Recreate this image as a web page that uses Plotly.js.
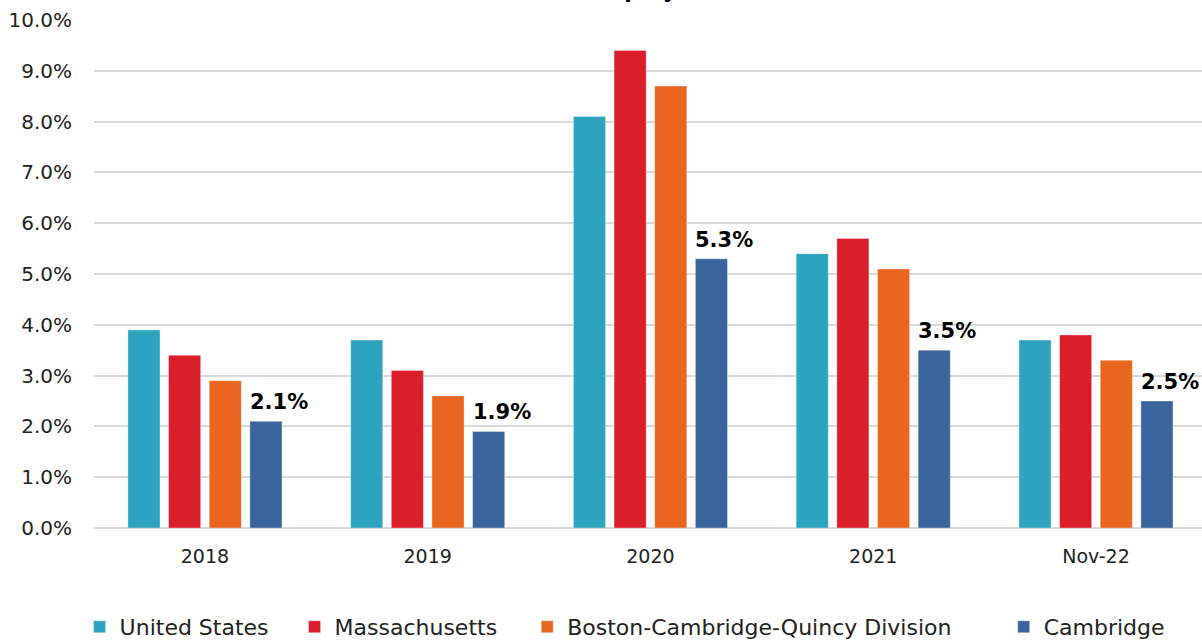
<!DOCTYPE html>
<html>
<head>
<meta charset="utf-8">
<script src="https://cdn.plot.ly/plotly-3.0.1.min.js"></script>
<style>html,body{margin:0;padding:0;background:#fff;}#chart{width:1202px;height:643px;}</style>
</head>
<body>
<div id="chart"></div>
<script>
var categories = ["2018", "2019", "2020", "2021", "Nov-22"];
var seriesNames = ["United States", "Massachusetts", "Boston-Cambridge-Quincy Division", "Cambridge"];
var unitedStates = [3.9, 3.7, 8.1, 5.4, 3.7];
var massachusetts = [3.4, 3.1, 9.4, 5.7, 3.8];
var bostonDivision = [2.9, 2.6, 8.7, 5.1, 3.3];
var cambridge = [2.1, 1.9, 5.3, 3.5, 2.5];
var colors = ["#2EA3BF", "#DA1F2B", "#E8661F", "#3A649C"];
var yTickVals = [0, 1, 2, 3, 4, 5, 6, 7, 8, 9, 10];
var yTickText = ["0.0%", "1.0%", "2.0%", "3.0%", "4.0%", "5.0%", "6.0%", "7.0%", "8.0%", "9.0%", "10.0%"];
var titleText = "Unemployment Rate";

var FONT = "DejaVu Sans, sans-serif";
var legendIds = ["legend", "legend2", "legend3", "legend4"];
var legendX = [-0.013, 0.181, 0.391, 0.821];
var allSeries = [unitedStates, massachusetts, bostonDivision, cambridge];
var traces = allSeries.map(function (vals, i) {
  return {
    type: "bar",
    name: seriesNames[i],
    x: categories,
    y: vals,
    legend: legendIds[i],
    marker: { color: colors[i], line: { color: "rgba(255,255,255,0.35)", width: 1 } },
    hoverinfo: "skip"
  };
});

// category axis: annotation x given as category index
var annotations = cambridge.map(function (v, i) {
  return {
    x: i, y: v, xref: "x", yref: "y",
    text: v.toFixed(1) + "%",
    showarrow: false,
    xanchor: "left", yanchor: "bottom",
    xshift: 43, yshift: 5,
    font: { family: FONT, size: 21, color: "#000", weight: "bold" }
  };
});

var layout = {
  width: 1202, height: 643,
  margin: { l: 94, r: 0, t: 20, b: 115, autoexpand: false },
  paper_bgcolor: "#fff", plot_bgcolor: "#fff",
  barmode: "group",
  bargap: 0.27,
  bargroupgap: 0.21,
  showlegend: true,
  xaxis: {
    type: "category",
    range: [-0.498, 4.476],
    tickfont: { family: FONT, size: 19, color: "#222" },
    showgrid: false, showline: false, zeroline: false,
    ticks: "", ticklabelstandoff: 15
  },
  yaxis: {
    range: [0, 10],
    tickvals: yTickVals, ticktext: yTickText,
    tickfont: { family: FONT, size: 20, color: "#222" },
    showgrid: true, gridcolor: "#D9D9D9", gridwidth: 2,
    zeroline: true, zerolinecolor: "#D9D9D9", zerolinewidth: 2,
    showline: false, ticks: "", ticklabelstandoff: 21
  },
  annotations: annotations.concat([{
    xref: "paper", yref: "paper", x: 0.528, y: 1, xanchor: "center", yanchor: "bottom",
    yshift: 15, showarrow: false, text: titleText,
    font: { family: FONT, size: 22, color: "#000", weight: "bold" }
  }])
};
legendIds.forEach(function (id, i) {
  layout[id] = {
    orientation: "h", x: legendX[i], xanchor: "left", y: -0.1535, yanchor: "top",
    font: { family: FONT, size: 22, color: "#222" },
    bgcolor: "rgba(0,0,0,0)", itemclick: false
  };
});

Plotly.newPlot("chart", traces, layout, { staticPlot: true, displayModeBar: false });
</script>
</body>
</html>
